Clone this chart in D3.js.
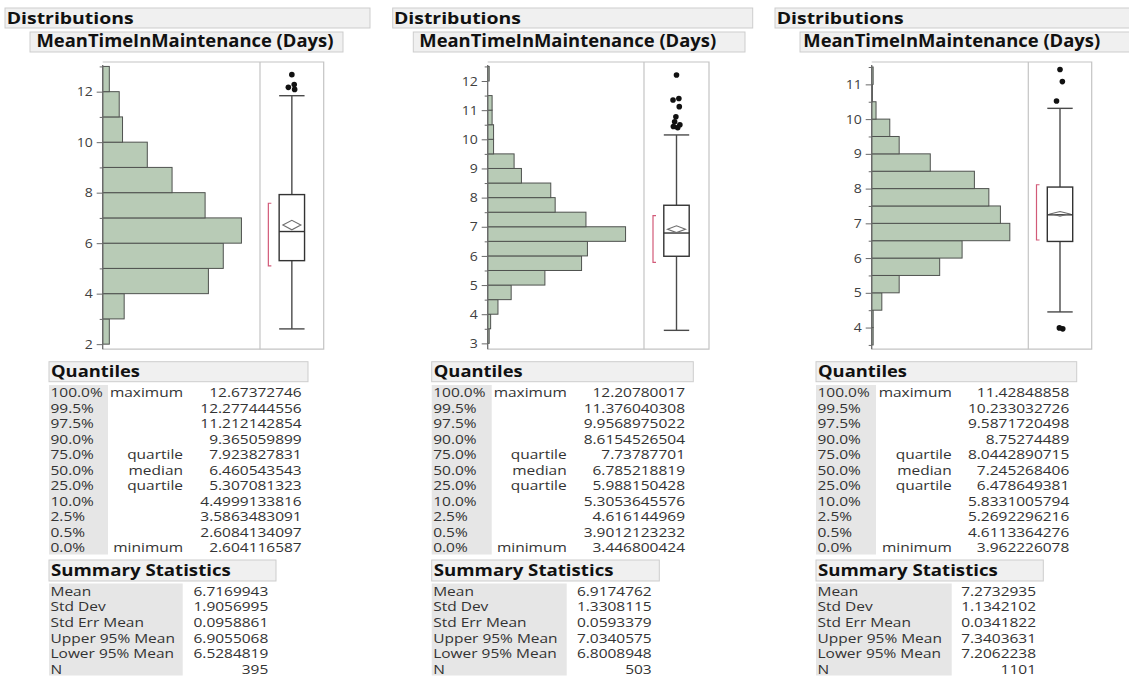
<!DOCTYPE html>
<html>
<head>
<meta charset="utf-8">
<script src="https://cdn.jsdelivr.net/npm/d3@7"></script>
<style>
  body { margin: 0; background: #fff; }
  svg { display: block; }
  text { font-family: "Open Sans", "Noto Sans", sans-serif; }
</style>
</head>
<body>
<svg id="chart" width="1129" height="677"></svg>
<script>
// ---- Histogram counts (bin start, bin width, counts from the bottom bin up) ----
const binStart1 = 2,   binWidth1 = 1;
const counts1 = [4, 13, 64, 73, 84, 62, 42, 27, 12, 10, 4];
const binStart2 = 3,   binWidth2 = 0.5;
const counts2 = [1, 2, 7, 16, 39, 64, 68, 94, 67, 46, 43, 23, 18, 4, 4, 3, 3, 0, 1];
const binStart3 = 3.5, binWidth3 = 0.5;
const counts3 = [2, 2, 14, 38, 94, 125, 191, 178, 162, 142, 81, 38, 25, 6, 1, 2];

// ---- Axis ticks ----
const majorTicks1 = [2, 4, 6, 8, 10, 12];
const minorTicks1 = [3, 5, 7, 9, 11, 13];
const majorTicks2 = [3, 4, 5, 6, 7, 8, 9, 10, 11, 12];
const minorTicks2 = [3.5, 4.5, 5.5, 6.5, 7.5, 8.5, 9.5, 10.5, 11.5, 12.5];
const majorTicks3 = [4, 5, 6, 7, 8, 9, 10, 11];
const minorTicks3 = [3.5, 4.5, 5.5, 6.5, 7.5, 8.5, 9.5, 10.5, 11.5];

// ---- Box plot extras: whisker ends, outliers, shortest half ----
const whiskers1 = [2.604116587, 11.84];
const whiskers2 = [3.446800424, 10.15];
const whiskers3 = [4.45, 10.31];
const outliers1 = [12.67372746, 12.28, 12.17, 12.09];
const outliers2 = [12.20780017, 11.40, 11.35, 11.12, 10.77, 10.60, 10.50, 10.44, 10.40];
const outliers3 = [11.42848858, 11.08, 10.52, 3.962226078, 3.99];
const shortestHalf1 = [5.10, 7.58];
const shortestHalf2 = [5.78, 7.38];
const shortestHalf3 = [6.52, 8.11];

// ---- Report tables ----
const quantileLevels = ["100.0%", "99.5%", "97.5%", "90.0%", "75.0%", "50.0%", "25.0%", "10.0%", "2.5%", "0.5%", "0.0%"];
const quantileNames  = ["maximum", "", "", "", "quartile", "median", "quartile", "", "", "", "minimum"];
const quantiles1 = ["12.67372746", "12.277444556", "11.212142854", "9.365059899", "7.923827831", "6.460543543", "5.307081323", "4.4999133816", "3.5863483091", "2.6084134097", "2.604116587"];
const quantiles2 = ["12.20780017", "11.376040308", "9.9568975022", "8.6154526504", "7.73787701", "6.785218819", "5.988150428", "5.3053645576", "4.616144969", "3.9012123232", "3.446800424"];
const quantiles3 = ["11.42848858", "10.233032726", "9.5871720498", "8.75274489", "8.0442890715", "7.245268406", "6.478649381", "5.8331005794", "5.2692296216", "4.6113364276", "3.962226078"];
const summaryNames = ["Mean", "Std Dev", "Std Err Mean", "Upper 95% Mean", "Lower 95% Mean", "N"];
const summary1 = ["6.7169943", "1.9056995", "0.0958861", "6.9055068", "6.5284819", "395"];
const summary2 = ["6.9174762", "1.3308115", "0.0593379", "7.0340575", "6.8008948", "503"];
const summary3 = ["7.2732935", "1.1342102", "0.0341822", "7.3403631", "7.2062238", "1101"];

const panelTitle = "Distributions";
const variableTitle = "MeanTimeInMaintenance (Days)";

// ---- Layout of the three report panels ----
const layouts = [
  { dist: [5, 370], distText: 6.7, varBox: [30, 343], varText: 36.5,
    axisX: 102.7, divX: 260, rightX: 323.7, domain: [13.175, 1.80],
    qBox: [49, 308], qGray: 108, qMid: 183, qVal: 301.7,
    sBox: [49, 276], sGray: 182.7, sVal: 268.3 },
  { dist: [392.7, 752.7], distText: 394, varBox: [413.3, 745], varText: 419.3,
    axisX: 487.7, divX: 644, rightX: 709, domain: [12.652, 2.80],
    qBox: [431.7, 693.3], qGray: 491.7, qMid: 566.7, qVal: 685,
    sBox: [431.7, 659.3], sGray: 566.7, sVal: 651.7 },
  { dist: [775, 1135], distText: 776.7, varBox: [800, 1135], varText: 803.3,
    axisX: 871.7, divX: 1028.3, rightX: 1091.7, domain: [11.644, 3.377],
    qBox: [816, 1076.7], qGray: 876, qMid: 951.7, qVal: 1069.3,
    sBox: [816, 1043.3], sGray: 951.7, sVal: 1036 }
];

const panels = [
  { binStart: binStart1, binWidth: binWidth1, counts: counts1, major: majorTicks1, minor: minorTicks1,
    whiskers: whiskers1, outliers: outliers1, shortest: shortestHalf1, quantiles: quantiles1, summary: summary1 },
  { binStart: binStart2, binWidth: binWidth2, counts: counts2, major: majorTicks2, minor: minorTicks2,
    whiskers: whiskers2, outliers: outliers2, shortest: shortestHalf2, quantiles: quantiles2, summary: summary2 },
  { binStart: binStart3, binWidth: binWidth3, counts: counts3, major: majorTicks3, minor: minorTicks3,
    whiskers: whiskers3, outliers: outliers3, shortest: shortestHalf3, quantiles: quantiles3, summary: summary3 }
];

// ---- Styling ----
const SX = 1.21;                 // horizontal text stretch of the report font
const BODY_SIZE = 12.8;
const PLOT_TOP = 62, PLOT_BOTTOM = 349.2;
const BAR_FILL = "#b8cbb6", BAR_STROKE = "#4f524f";
const FRAME = "#c4c4c4", AXIS = "#6a6a6a", TEXT = "#333333";
const GRAY_CELL = "#e6e6e6", HEADER_FILL = "#f0f0f0", HEADER_STROKE = "#cdcdcd";

const svg = d3.select("#chart");

function label(g, x, y, str, o = {}) {
  const t = g.append("text")
    .attr("text-anchor", o.anchor || "start")
    .attr("font-size", o.size || BODY_SIZE)
    .attr("font-weight", o.weight || 400)
    .attr("fill", o.fill || TEXT)
    .text(str);
  let sx = o.sx || SX;
  if (o.fit) sx = o.fit / t.node().getComputedTextLength();
  t.attr("transform", `translate(${x},${y}) scale(${sx},1)`);
  return t;
}

function headerBox(g, x0, x1, y0, y1) {
  g.append("rect").attr("x", x0).attr("y", y0).attr("width", x1 - x0).attr("height", y1 - y0)
    .attr("fill", HEADER_FILL).attr("stroke", HEADER_STROKE).attr("stroke-width", 1);
}

panels.forEach((p, k) => {
  const L = layouts[k];
  const g = svg.append("g");

  // Outline headers
  headerBox(g, L.dist[0], L.dist[1], 8, 28);
  label(g, L.distText, 23.6, panelTitle, { size: 16, weight: 700, fill: "#111", fit: 127 });
  headerBox(g, L.varBox[0], L.varBox[1], 32, 52);
  label(g, L.varText, 47.2, variableTitle, { size: 17, weight: 700, fill: "#111", fit: 297 });

  // Scales
  const y = d3.scaleLinear().domain(L.domain).range([PLOT_TOP, PLOT_BOTTOM]);
  const maxCount = d3.max(p.counts);
  const x = d3.scaleLinear().domain([0, maxCount / 0.882]).range([L.axisX, L.divX]);

  // Histogram bars
  const bins = p.counts.map((c, i) => ({ lo: p.binStart + i * p.binWidth, hi: p.binStart + (i + 1) * p.binWidth, c }));
  g.append("g").selectAll("rect").data(bins.filter(b => b.c > 0)).join("rect")
    .attr("x", x(0))
    .attr("y", b => y(b.hi))
    .attr("width", b => x(b.c) - x(0))
    .attr("height", b => y(b.lo) - y(b.hi))
    .attr("fill", BAR_FILL)
    .attr("stroke", BAR_STROKE)
    .attr("stroke-width", 1);

  // Frame around histogram and box plot
  g.append("path")
    .attr("d", `M${L.axisX},${PLOT_TOP}H${L.rightX}V${PLOT_BOTTOM}H${L.axisX}`)
    .attr("fill", "none").attr("stroke", FRAME).attr("stroke-width", 1.2);
  g.append("line").attr("x1", L.divX).attr("x2", L.divX).attr("y1", PLOT_TOP).attr("y2", PLOT_BOTTOM)
    .attr("stroke", FRAME).attr("stroke-width", 1.2);

  // Value axis
  const axG = g.append("g").attr("transform", `translate(${L.axisX},0)`);
  axG.call(d3.axisLeft(y).tickValues(p.major).tickSize(6).tickPadding(3).tickFormat(d3.format("d")));
  axG.select(".domain").remove();
  axG.selectAll(".tick line").attr("stroke", AXIS);
  axG.selectAll(".tick text")
    .attr("font-family", '"Open Sans", sans-serif').attr("font-size", 12.8)
    .attr("fill", "#404040").attr("transform", "scale(1.1,1)");
  const minG = g.append("g").attr("transform", `translate(${L.axisX},0)`);
  minG.call(d3.axisLeft(y).tickValues(p.minor).tickSize(3).tickFormat(""));
  minG.select(".domain").remove();
  minG.selectAll(".tick line").attr("stroke", AXIS);
  g.append("line").attr("x1", L.axisX).attr("x2", L.axisX).attr("y1", PLOT_TOP + 3).attr("y2", PLOT_BOTTOM)
    .attr("stroke", AXIS).attr("stroke-width", 1.3);

  // Outlier box plot
  const cx = (L.divX + L.rightX) / 2;
  const bw = 25.4;
  const q = p.quantiles.map(Number);
  const s = p.summary.map(Number);
  const q3 = q[4], med = q[5], q1 = q[6];
  const [wLo, wHi] = p.whiskers;
  const box = g.append("g").attr("stroke-width", 1.4);

  box.append("line").attr("x1", cx).attr("x2", cx).attr("y1", y(wHi)).attr("y2", y(q3)).attr("stroke", "#4a4a4a");
  box.append("line").attr("x1", cx).attr("x2", cx).attr("y1", y(q1)).attr("y2", y(wLo)).attr("stroke", "#4a4a4a");
  [wLo, wHi].forEach(v => box.append("line")
    .attr("x1", cx - bw / 2).attr("x2", cx + bw / 2).attr("y1", y(v)).attr("y2", y(v)).attr("stroke", "#4a4a4a"));
  box.append("rect").attr("x", cx - bw / 2).attr("y", y(q3)).attr("width", bw).attr("height", y(q1) - y(q3))
    .attr("fill", "#fff").attr("stroke", "#333");
  box.append("line").attr("x1", cx - bw / 2).attr("x2", cx + bw / 2).attr("y1", y(med)).attr("y2", y(med))
    .attr("stroke", "#333");

  // Mean confidence diamond
  const mean = s[0], up = s[3], lo = s[4];
  const dw = 9;
  box.append("path")
    .attr("d", `M${cx - dw},${y(mean)}L${cx},${y(up)}L${cx + dw},${y(mean)}L${cx},${y(lo)}Z`)
    .attr("fill", "none").attr("stroke", "#6e6e6e").attr("stroke-width", 1.1);

  // Shortest half bracket
  const bx = cx - 23.5;
  box.append("path")
    .attr("d", `M${bx + 3},${y(p.shortest[1])}H${bx}V${y(p.shortest[0])}H${bx + 3}`)
    .attr("fill", "none").attr("stroke", "#d25a78").attr("stroke-width", 1.2);

  // Outlier points with a small deterministic spread
  g.append("g").selectAll("circle").data(p.outliers).join("circle")
    .attr("cx", (d, i) => cx + Math.sin(i * 2.4) * 3.5)
    .attr("cy", d => y(d))
    .attr("r", 2.8)
    .attr("fill", "#111");

  // ---- Quantiles table ----
  headerBox(g, L.qBox[0], L.qBox[1], 361.7, 381.7);
  label(g, L.qBox[0] + 2, 376.6, "Quantiles", { size: 16, weight: 700, fill: "#111", fit: 89 });
  g.append("rect").attr("x", L.qBox[0]).attr("y", 385).attr("width", L.qGray - L.qBox[0]).attr("height", 169.5)
    .attr("fill", GRAY_CELL);
  quantileLevels.forEach((lv, i) => {
    const ty = 397 + i * 15.5;
    label(g, L.qBox[0] + 1.5, ty, lv);
    if (quantileNames[i]) label(g, L.qMid, ty, quantileNames[i], { anchor: "end" });
    label(g, L.qVal, ty, p.quantiles[i], { anchor: "end" });
  });

  // ---- Summary statistics table ----
  headerBox(g, L.sBox[0], L.sBox[1], 560, 581);
  label(g, L.sBox[0] + 2, 575.7, "Summary Statistics", { size: 16, weight: 700, fill: "#111", fit: 180 });
  g.append("rect").attr("x", L.sBox[0]).attr("y", 583.5).attr("width", L.sGray - L.sBox[0]).attr("height", 92)
    .attr("fill", GRAY_CELL);
  summaryNames.forEach((nm, i) => {
    const ty = 595.7 + i * 15.6;
    label(g, L.sBox[0] + 1.5, ty, nm);
    label(g, L.sVal, ty, p.summary[i], { anchor: "end" });
  });
});
</script>
</body>
</html>
